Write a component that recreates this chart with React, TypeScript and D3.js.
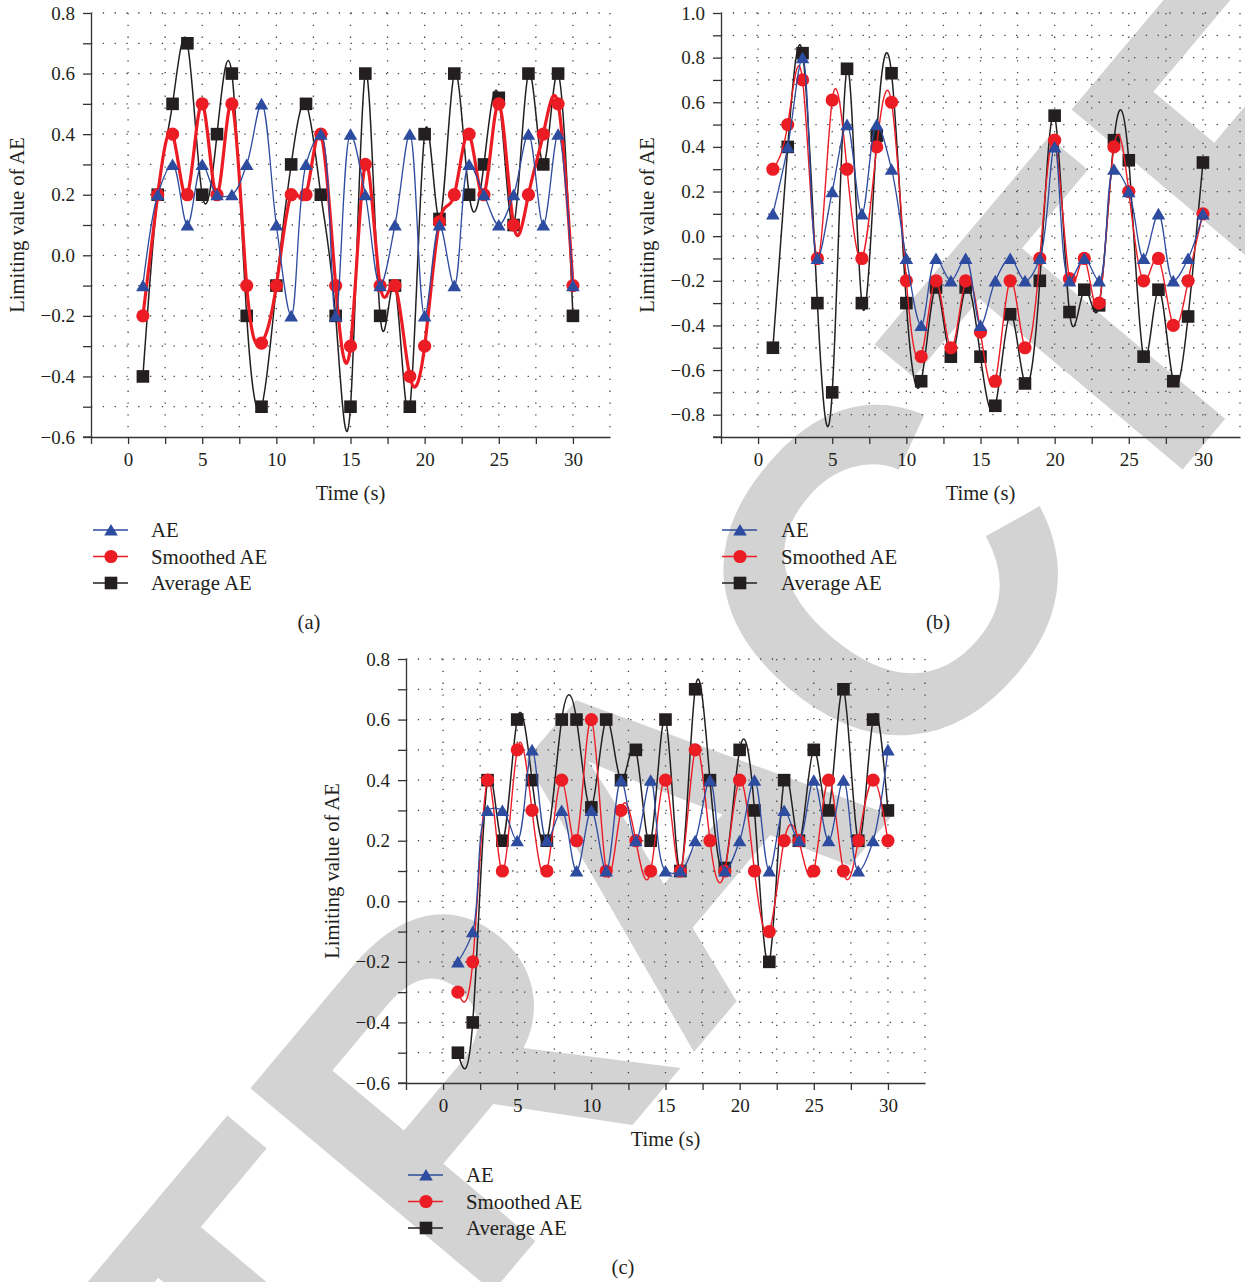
import React, { useEffect, useRef } from 'react';
import * as d3 from 'd3';

// time axis (s)
const time = [1, 2, 3, 4, 5, 6, 7, 8, 9, 10, 11, 12, 13, 14, 15, 16, 17, 18, 19, 20, 21, 22, 23, 24, 25, 26, 27, 28, 29, 30];

// panel (a)
const aeA = [-0.1, 0.2, 0.3, 0.1, 0.3, 0.2, 0.2, 0.3, 0.5, 0.1, -0.2, 0.3, 0.4, -0.2, 0.4, 0.2, -0.1, 0.1, 0.4, -0.2, 0.1, -0.1, 0.3, 0.2, 0.1, 0.2, 0.4, 0.1, 0.4, -0.1];
const smoothA = [-0.2, 0.2, 0.4, 0.2, 0.5, 0.2, 0.5, -0.1, -0.29, -0.1, 0.2, 0.2, 0.4, -0.1, -0.3, 0.3, -0.1, -0.1, -0.4, -0.3, 0.11, 0.2, 0.4, 0.2, 0.5, 0.1, 0.2, 0.4, 0.5, -0.1];
const avgA = [-0.4, 0.2, 0.5, 0.7, 0.2, 0.4, 0.6, -0.2, -0.5, -0.1, 0.3, 0.5, 0.2, -0.2, -0.5, 0.6, -0.2, -0.1, -0.5, 0.4, 0.12, 0.6, 0.2, 0.3, 0.52, 0.1, 0.6, 0.3, 0.6, -0.2];

// panel (b)
const aeB = [0.1, 0.4, 0.8, -0.1, 0.2, 0.5, 0.1, 0.5, 0.3, -0.1, -0.4, -0.1, -0.2, -0.1, -0.4, -0.2, -0.1, -0.2, -0.1, 0.4, -0.2, -0.1, -0.2, 0.3, 0.2, -0.1, 0.1, -0.2, -0.1, 0.1];
const smoothB = [0.3, 0.5, 0.7, -0.1, 0.61, 0.3, -0.1, 0.4, 0.6, -0.2, -0.54, -0.2, -0.5, -0.2, -0.43, -0.65, -0.2, -0.5, -0.1, 0.43, -0.19, -0.1, -0.3, 0.4, 0.2, -0.2, -0.1, -0.4, -0.2, 0.1];
const avgB = [-0.5, 0.4, 0.82, -0.3, -0.7, 0.75, -0.3, 0.45, 0.73, -0.3, -0.65, -0.23, -0.54, -0.23, -0.54, -0.76, -0.35, -0.66, -0.2, 0.54, -0.34, -0.24, -0.31, 0.43, 0.34, -0.54, -0.24, -0.65, -0.36, 0.33];

// panel (c)
const aeC = [-0.2, -0.1, 0.3, 0.3, 0.2, 0.5, 0.2, 0.3, 0.1, 0.3, 0.1, 0.4, 0.2, 0.4, 0.1, 0.1, 0.2, 0.4, 0.1, 0.2, 0.4, 0.1, 0.3, 0.2, 0.4, 0.2, 0.4, 0.1, 0.2, 0.5];
const smoothC = [-0.3, -0.2, 0.4, 0.1, 0.5, 0.3, 0.1, 0.4, 0.2, 0.6, 0.1, 0.3, 0.2, 0.1, 0.4, 0.1, 0.5, 0.2, 0.1, 0.4, 0.1, -0.1, 0.2, 0.2, 0.1, 0.4, 0.1, 0.2, 0.4, 0.2];
const avgC = [-0.5, -0.4, 0.4, 0.2, 0.6, 0.4, 0.2, 0.6, 0.6, 0.31, 0.6, 0.4, 0.5, 0.2, 0.6, 0.1, 0.7, 0.4, 0.11, 0.5, 0.3, -0.2, 0.4, 0.2, 0.5, 0.3, 0.7, 0.2, 0.6, 0.3];

// tick labels
const xLabels = [0, 5, 10, 15, 20, 25, 30];
const yLabelsAC = [-0.6, -0.4, -0.2, 0.0, 0.2, 0.4, 0.6, 0.8];
const yLabelsB = [-0.8, -0.6, -0.4, -0.2, 0.0, 0.2, 0.4, 0.6, 0.8, 1.0];
const seriesNames = ['AE', 'Smoothed AE', 'Average AE'];

const BLUE = '#2d4b9f';
const RED = '#ec1c24';
const BLACK = '#231f20';
const SERIF = '"Liberation Serif", "Times New Roman", serif';

const panels = [
  { left: 91, bottom: 437, yDomain: [-0.6, 0.8], yLabels: yLabelsAC, ae: aeA, smooth: smoothA, avg: avgA, redW: 3.2, legX: 93, legY: 530, legText: 151, cap: '(a)', capX: 309, capY: 622 },
  { left: 721, bottom: 437, yDomain: [-0.9, 1.0], yLabels: yLabelsB, ae: aeB, smooth: smoothB, avg: avgB, redW: 1.4, legX: 722, legY: 530, legText: 781, cap: '(b)', capX: 938, capY: 622 },
  { left: 406, bottom: 1083, yDomain: [-0.6, 0.8], yLabels: yLabelsAC, ae: aeC, smooth: smoothC, avg: avgC, redW: 1.4, legX: 408, legY: 1175, legText: 466, cap: '(c)', capX: 623, capY: 1267 },
];

const triPath = (cx: number, cy: number) => `M${cx},${cy - 6}L${cx + 6.8},${cy + 5.6}L${cx - 6.8},${cy + 5.6}Z`;

function drawPanel(root: any, p: any) {
  const x = d3.scaleLinear().domain([-2.5, 32.5]).range([p.left, p.left + 519]);
  const y = d3.scaleLinear().domain(p.yDomain).range([p.bottom, p.bottom - 424]);
  const g = root.append('g');
  const onLabel = (v: number, list: number[]) => list.some((l) => Math.abs(l - v) < 1e-6);
  const fmt = d3.format('.1f');

  // dotted grid
  const gx = d3.range(0, 32.51, 2.5);
  const gy = d3.range(Math.round(p.yDomain[0] * 10) + 1, Math.round(p.yDomain[1] * 10) + 1).map((v) => v / 10);
  const grid = g.append('g').attr('stroke', '#444').attr('stroke-width', 1.3).attr('stroke-dasharray', '1.3 10.5');
  grid.selectAll('line.v').data(gx).join('line').attr('class', 'v')
    .attr('x1', (d: number) => x(d)).attr('x2', (d: number) => x(d))
    .attr('y1', y(p.yDomain[1])).attr('y2', p.bottom);
  grid.selectAll('line.h').data(gy).join('line').attr('class', 'h')
    .attr('x1', x(-2.5)).attr('x2', x(32.5))
    .attr('y1', (d: number) => y(d)).attr('y2', (d: number) => y(d));

  // axes
  const yTicks = d3.range(Math.round(p.yDomain[0] * 10), Math.round(p.yDomain[1] * 10) + 1).map((v) => v / 10);
  const yAxis = d3.axisLeft(y).tickValues(yTicks).tickSize(8).tickSizeOuter(0).tickPadding(8)
    .tickFormat((d: any) => (onLabel(d, p.yLabels) ? fmt(d) : ''));
  const ya = g.append('g').attr('transform', `translate(${x(-2.5)},0)`).call(yAxis);
  const xTicks = d3.range(-2.5, 30.01, 2.5);
  const xAxis = d3.axisBottom(x).tickValues(xTicks).tickSize(7).tickSizeOuter(0).tickPadding(9)
    .tickFormat((d: any) => (onLabel(d, xLabels) ? String(d) : ''));
  const xa = g.append('g').attr('transform', `translate(0,${p.bottom})`).call(xAxis);
  [ya, xa].forEach((a) => {
    a.attr('font-family', SERIF).attr('font-size', 19);
    a.selectAll('path, line').attr('stroke', '#333').attr('stroke-width', 1.3);
    a.selectAll('text').attr('fill', BLACK);
  });
  g.append('line').attr('x1', x(-2.5) - 8).attr('x2', x(-2.5)).attr('y1', p.bottom).attr('y2', p.bottom)
    .attr('stroke', '#333').attr('stroke-width', 1.3);

  // titles
  const ymid = (y(p.yDomain[0]) + y(p.yDomain[1])) / 2;
  g.append('text').attr('transform', `translate(${x(-2.5) - 74},${ymid}) rotate(-90)`)
    .attr('text-anchor', 'middle').attr('dy', '0.35em').attr('font-family', SERIF).attr('font-size', 20.6)
    .attr('fill', BLACK).text('Limiting value of AE');
  g.append('text').attr('x', (x(-2.5) + x(32.5)) / 2).attr('y', p.bottom + 56).attr('dy', '0.35em')
    .attr('text-anchor', 'middle').attr('font-family', SERIF).attr('font-size', 20.6).attr('fill', BLACK).text('Time (s)');

  // series
  const pts = (vals: number[]) => time.map((t, i) => [t, vals[i]] as [number, number]);
  const natural = d3.line<[number, number]>().x((d) => x(d[0])).y((d) => y(d[1])).curve(d3.curveNatural);
  const catmull = d3.line<[number, number]>().x((d) => x(d[0])).y((d) => y(d[1])).curve(d3.curveCatmullRom.alpha(0.5));

  g.append('path').attr('d', natural(pts(p.avg))).attr('fill', 'none').attr('stroke', BLACK).attr('stroke-width', 1.5);
  g.selectAll('rect.m').data(pts(p.avg)).join('rect').attr('class', 'm')
    .attr('x', (d: any) => x(d[0]) - 6.3).attr('y', (d: any) => y(d[1]) - 6.3)
    .attr('width', 12.6).attr('height', 12.6).attr('fill', BLACK);

  g.append('path').attr('d', natural(pts(p.smooth))).attr('fill', 'none').attr('stroke', RED).attr('stroke-width', p.redW);
  g.selectAll('circle.m').data(pts(p.smooth)).join('circle').attr('class', 'm')
    .attr('cx', (d: any) => x(d[0])).attr('cy', (d: any) => y(d[1])).attr('r', 6.6).attr('fill', RED);

  g.append('path').attr('d', catmull(pts(p.ae))).attr('fill', 'none').attr('stroke', BLUE).attr('stroke-width', 1.3);
  g.selectAll('path.m').data(pts(p.ae)).join('path').attr('class', 'm')
    .attr('d', (d: any) => triPath(x(d[0]), y(d[1]))).attr('fill', BLUE);

  // legend
  const leg = g.append('g').attr('font-family', SERIF).attr('font-size', 20.8).attr('fill', BLACK);
  const colors = [BLUE, RED, BLACK];
  seriesNames.forEach((name, i) => {
    const ly = p.legY + i * 26.5;
    const mx = p.legX + 18;
    leg.append('line').attr('x1', p.legX).attr('x2', p.legX + 35).attr('y1', ly).attr('y2', ly)
      .attr('stroke', colors[i]).attr('stroke-width', 1.5);
    if (i === 0) leg.append('path').attr('d', triPath(mx, ly)).attr('fill', BLUE);
    if (i === 1) leg.append('circle').attr('cx', mx).attr('cy', ly).attr('r', 6.6).attr('fill', RED);
    if (i === 2) leg.append('rect').attr('x', mx - 6.3).attr('y', ly - 6.3).attr('width', 12.6).attr('height', 12.6).attr('fill', BLACK);
    leg.append('text').attr('x', p.legText).attr('y', ly).attr('dy', '0.35em').text(name);
  });

  g.append('text').attr('x', p.capX).attr('y', p.capY).attr('dy', '0.35em').attr('text-anchor', 'middle')
    .attr('font-family', SERIF).attr('font-size', 20.6).attr('fill', BLACK).text(p.cap);
}

export default function App() {
  const ref = useRef<SVGSVGElement>(null);
  useEffect(() => {
    const svg = d3.select(ref.current);
    svg.selectAll('*').remove();
    // diagonal watermark
    svg.append('text').attr('x', 670).attr('y', 830)
      .attr('transform', 'rotate(-50,670,830)')
      .attr('text-anchor', 'middle').attr('dy', '0.35em')
      .attr('font-family', '"Liberation Sans", Arial, sans-serif').attr('font-weight', 'bold').attr('font-size', 460)
      .attr('fill', '#d3d3d3').text('RETRACTED');
    panels.forEach((p) => drawPanel(svg, p));
  }, []);
  return (
    <div style={{ position: 'absolute', left: 0, top: 0 }}>
      <svg ref={ref} width={1245} height={1282} style={{ display: 'block', background: '#fff' }} />
    </div>
  );
}
